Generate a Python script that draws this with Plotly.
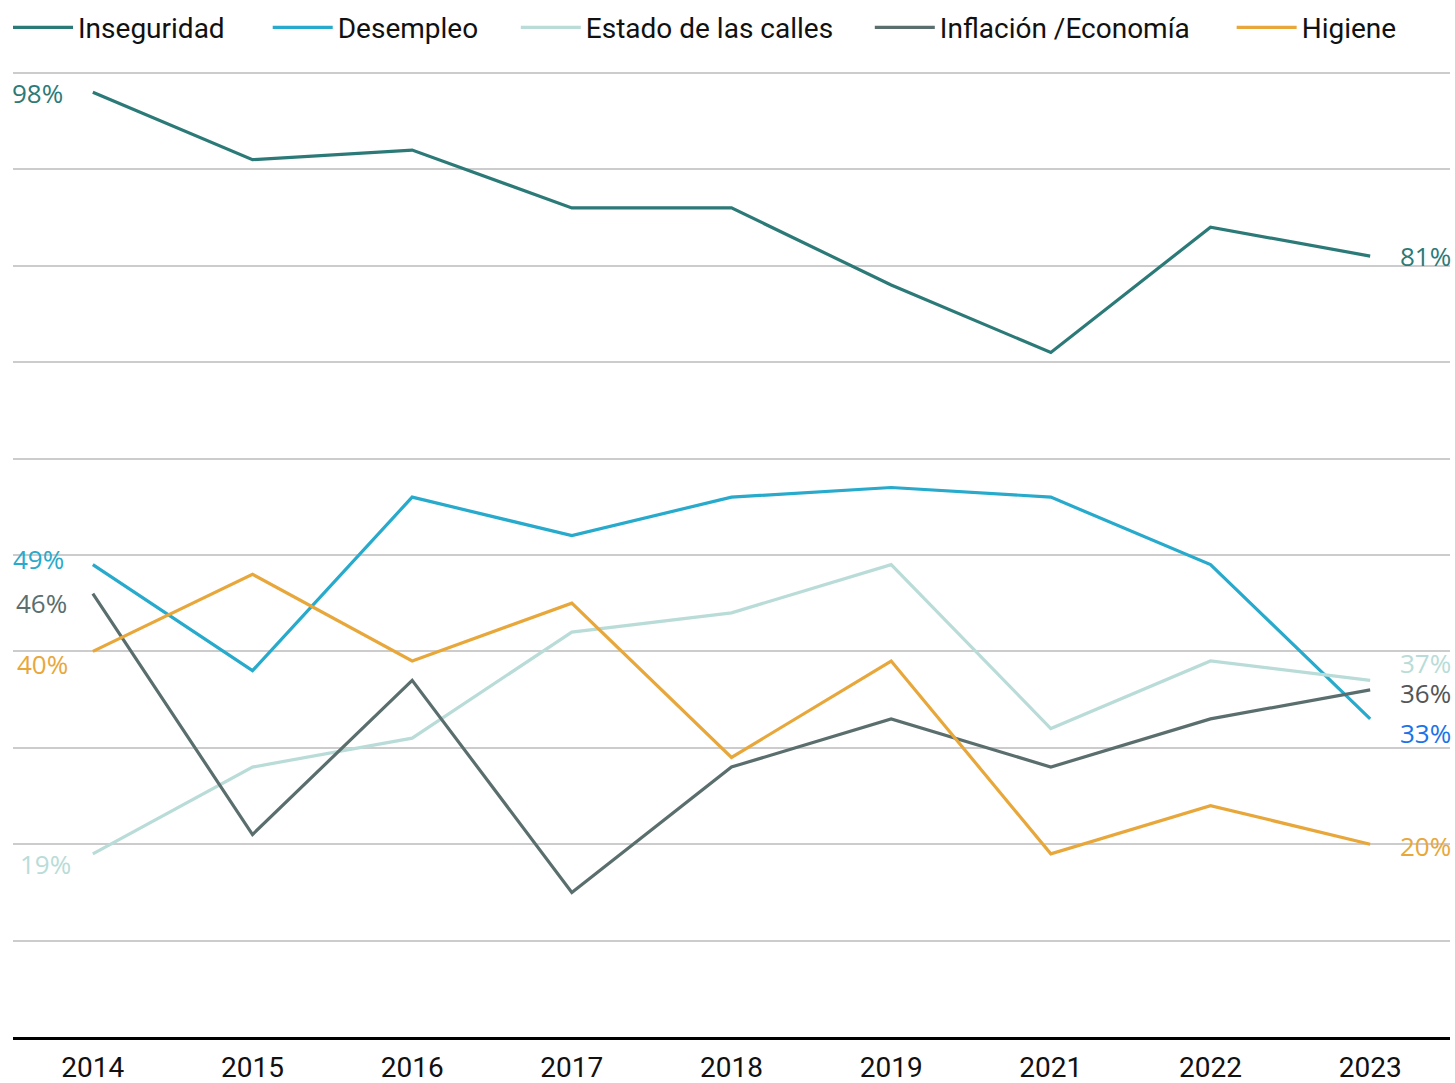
import plotly.graph_objects as go

years = ["2014", "2015", "2016", "2017", "2018", "2019", "2021", "2022", "2023"]
inseguridad = [98, 91, 92, 86, 86, 78, 71, 84, 81]
desempleo = [49, 38, 56, 52, 56, 57, 56, 49, 33]
calles = [19, 28, 31, 42, 44, 49, 32, 39, 37]
inflacion = [46, 21, 37, 15, 28, 33, 28, 33, 36]
higiene = [40, 48, 39, 45, 29, 39, 19, 24, 20]

series = [
    ("Inseguridad", inseguridad, "#2b7a78", 0.0055),
    ("Desempleo", desempleo, "#27aacb", 0.1840),
    ("Estado de las calles", calles, "#b9dcd8", 0.3545),
    ("Inflación /Economía", inflacion, "#5b6e6e", 0.5978),
    ("Higiene", higiene, "#e8a73a", 0.8465),
]

fig = go.Figure()
legend_layout = {}
for i, (name, vals, col, lx) in enumerate(series):
    lname = "legend" if i == 0 else f"legend{i+1}"
    fig.add_trace(go.Scatter(x=years, y=vals, name=name, mode="lines",
                             line=dict(color=col, width=3.2), legend=lname))
    legend_layout[lname] = dict(
        orientation="h", xref="container", yref="container",
        x=lx, xanchor="left", y=0.9745, yanchor="middle",
        font=dict(family="Roboto, sans-serif", size=28, color="#111111"),
        itemwidth=60, bgcolor="rgba(0,0,0,0)")

lab_font = "Open Sans, sans-serif"
left_labels = [
    (inseguridad[0], "#2b7a78", -0.1, -3),
    (desempleo[0], "#27aacb", 0.6, -2),
    (inflacion[0], "#5b6e6e", -1.0, 1),
    (higiene[0], "#e8a73a", -1.3, 2),
    (calles[0], "#b9dcd8", -1.1, 5),
]
for v, col, dy, dx in left_labels:
    fig.add_annotation(x=0, xref="paper", xanchor="left", xshift=dx,
                       y=v + dy, yref="y", yanchor="middle",
                       text=f"{v}%", showarrow=False,
                       font=dict(family=lab_font, size=26, color=col))

right_labels = [
    (inseguridad[-1], "#2b7a78", 0.0),
    (calles[-1], "#b9dcd8", 1.8),
    (inflacion[-1], "#555555", -0.3),
    (desempleo[-1], "#1a73e8", -1.5),
    (higiene[-1], "#e8a73a", -0.2),
]
for v, col, dy in right_labels:
    fig.add_annotation(x=1, xref="paper", xanchor="right", xshift=3,
                       y=v + dy, yref="y", yanchor="middle",
                       text=f"{v}%", showarrow=False,
                       font=dict(family=lab_font, size=26, color=col))

fig.update_layout(
    width=1455, height=1083,
    margin=dict(l=13, r=5, t=71, b=46),
    plot_bgcolor="white", paper_bgcolor="white",
    font=dict(family="Roboto, sans-serif", size=28, color="#111111"),
    showlegend=True,
    xaxis=dict(type="category", range=[-0.5, 8.5], showgrid=False,
               showline=True, linecolor="#000000", linewidth=3,
               ticks="", ticklabelstandoff=3, automargin=False,
               tickfont=dict(size=28, color="#111111")),
    yaxis=dict(range=[0, 100.2], dtick=10, showgrid=True, gridcolor="#cccccc",
               gridwidth=2, zeroline=False, showticklabels=False, ticks="",
               automargin=False),
    **legend_layout,
)

fig.write_html("out.html", config={"displayModeBar": False},
               post_script="document.body.style.margin='0';document.body.style.overflow='hidden';")
